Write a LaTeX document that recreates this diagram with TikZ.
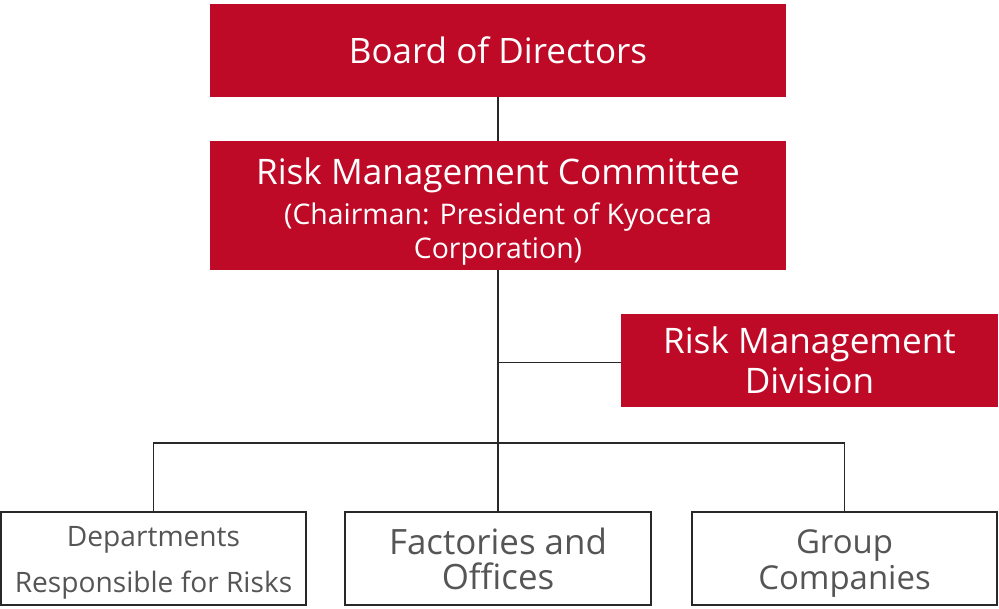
\documentclass[tikz,border=0pt]{standalone}
\usepackage{fontspec}
\setmainfont{Open Sans}
\usepackage{tikz}
\usetikzlibrary{positioning, calc}
\definecolor{kred}{RGB}{190,10,38}
\definecolor{kgray}{RGB}{85,85,85}
\definecolor{kline}{RGB}{40,40,40}
\tikzset{
  redbox/.style={rectangle, fill=kred, text=white, align=center,
    inner sep=0pt, minimum width=14.4cm, minimum height=2.325cm},
  greybox/.style={rectangle, draw=kline, fill=white, text=kgray, align=center,
    inner sep=0pt, line width=0.9pt, minimum height=2.325cm},
  link/.style={draw=kline, line width=0.8pt}
}

\begin{document}
\begin{tikzpicture}[x=0.025cm, y=0.025cm]
  \useasboundingbox (0,0) rectangle (999,-608);
  \node[redbox, font=\fontsize{24.9}{29}\selectfont] (board) at (498,-50.5) {Board of Directors};
  \node[redbox, minimum height=3.225cm] (rmc) at (498,-205.5)
    {\fontsize{25}{29}\selectfont\rule{0pt}{27pt}Risk Management Committee\\[6pt]
     \fontsize{20.2}{24.8}\selectfont (Chairman: President of Kyocera\\[3.5pt]
     \fontsize{20.2}{24.8}\selectfont Corporation)};
  \node[redbox, minimum width=9.425cm, font=\fontsize{25}{28.5}\selectfont] (rmd) at (809.5,-360.5)
    {Risk Management\\Division};

  \node[greybox, minimum width=7.625cm, font=\fontsize{20}{32.5}\selectfont] (dept) at (153.5,-558.5)
    {\rule{0pt}{20pt}Departments\\Responsible for Risks};
  \node[greybox, minimum width=7.65cm, font=\fontsize{24.8}{25}\selectfont] (fact) at (498,-558.5)
    {Factories and\\Offices};
  \node[greybox, minimum width=7.625cm, font=\fontsize{23.4}{26.2}\selectfont] (group) at (844.5,-558.5)
    {\rule{0pt}{24pt}Group\\Companies};

  \coordinate (split) at (498,-443);
  \draw[link] (board) -- (rmc);
  \draw[link] (rmc) -- (split);
  \draw[link] ([yshift=-1.5]rmd.west) -- ([yshift=-1.5]rmd.west -| rmc.south);
  \draw[link] (dept.north) |- (split) -| (group.north);
  \draw[link] (split) -- (fact.north);
\end{tikzpicture}
\end{document}
